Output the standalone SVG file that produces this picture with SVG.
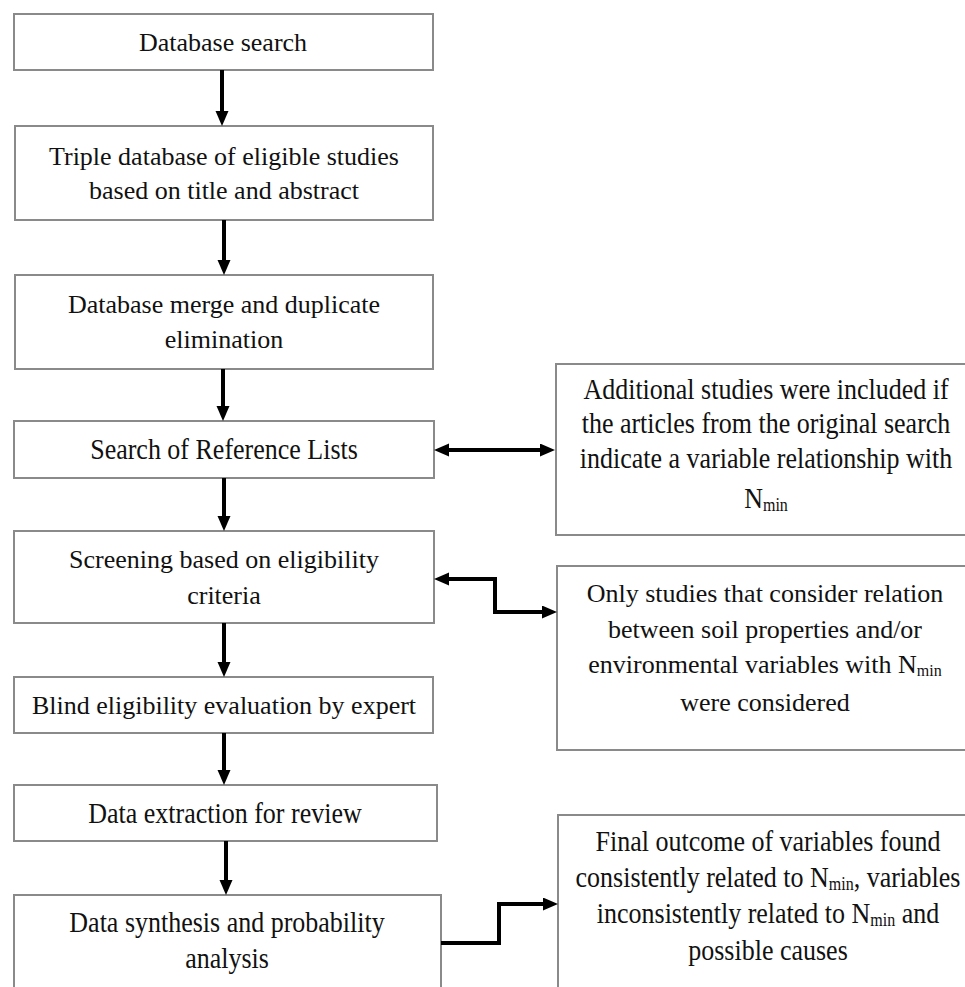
<svg xmlns="http://www.w3.org/2000/svg" width="965" height="987" viewBox="0 0 965 987">
<style>
.box{fill:#fff;stroke:#8a8a8a;stroke-width:2}
.t{font-family:"Liberation Serif","Times New Roman",serif;font-size:26px;fill:#111;text-anchor:middle}
.sub{font-size:16px}
.c{fill:none;stroke:#000;stroke-width:4}
</style>
<defs>
<marker id="ah" markerUnits="userSpaceOnUse" markerWidth="16" markerHeight="14" refX="5" refY="6.5" orient="auto-start-reverse">
<path d="M0,0 L15,6.5 L0,13 z" fill="#000"/>
</marker>
</defs>
<rect width="965" height="987" fill="#fff"/>
<g id="n1"><rect class="box" x="14" y="14" width="419" height="56"/><text class="t" x="223" y="51">Database search</text></g>
<g id="n2"><rect class="box" x="15" y="126" width="418" height="94"/><text class="t" x="224" y="165">Triple database of eligible studies</text><text class="t" x="224" y="199">based on title and abstract</text></g>
<g id="n3"><rect class="box" x="15" y="275" width="418" height="94"/><text class="t" x="224" y="313">Database merge and duplicate</text><text class="t" x="224" y="348">elimination</text></g>
<g id="n4"><rect class="box" x="14" y="421" width="420" height="57"/><text class="t" transform="translate(224,459) scale(1,1.15)">Search of Reference Lists</text></g>
<g id="n5"><rect class="box" x="14" y="531" width="420" height="92"/><text class="t" x="224" y="568">Screening based on eligibility</text><text class="t" x="224" y="604">criteria</text></g>
<g id="n6"><rect class="box" x="14" y="677" width="419" height="56"/><text class="t" x="224" y="714">Blind eligibility evaluation by expert</text></g>
<g id="n7"><rect class="box" x="14" y="785" width="423" height="56"/><text class="t" transform="translate(225,823) scale(1,1.15)">Data extraction for review</text></g>
<g id="n8"><rect class="box" x="14" y="895" width="427" height="100"/><text class="t" transform="translate(227,932) scale(1,1.15)">Data synthesis and probability</text><text class="t" transform="translate(227,968) scale(1,1.15)">analysis</text></g>
<g id="r1"><rect class="box" x="556" y="364" width="412" height="171"/>
<text class="t" transform="translate(766,399) scale(1,1.15)">Additional studies were included if</text>
<text class="t" transform="translate(766,433) scale(1,1.15)">the articles from the original search</text>
<text class="t" transform="translate(766,468) scale(1,1.15)">indicate a variable relationship with</text>
<text class="t" transform="translate(766,508) scale(1,1.15)">N<tspan class="sub" dy="3">min</tspan></text></g>
<g id="r2"><rect class="box" x="557" y="566" width="411" height="184"/>
<text class="t" x="765" y="602">Only studies that consider relation</text>
<text class="t" x="765" y="638">between soil properties and/or</text>
<text class="t" x="765" y="673">environmental variables with N<tspan class="sub" dy="3">min</tspan></text>
<text class="t" x="765" y="711">were considered</text></g>
<g id="r3"><rect class="box" x="558" y="815" width="410" height="180"/>
<text class="t" transform="translate(768,851) scale(1,1.15)">Final outcome of variables found</text>
<text class="t" transform="translate(768,887) scale(1,1.15)">consistently related to N<tspan class="sub" dy="3">min</tspan><tspan dy="-3">, variables</tspan></text>
<text class="t" transform="translate(768,923) scale(1,1.15)">inconsistently related to N<tspan class="sub" dy="3">min</tspan><tspan dy="-3"> and</tspan></text>
<text class="t" transform="translate(768,960) scale(1,1.15)">possible causes</text></g>
<g id="connectors">
<path class="c" d="M222,70 V116" marker-end="url(#ah)"/>
<path class="c" d="M224,220 V265" marker-end="url(#ah)"/>
<path class="c" d="M223,369 V411" marker-end="url(#ah)"/>
<path class="c" d="M224,478 V521" marker-end="url(#ah)"/>
<path class="c" d="M224,623 V667" marker-end="url(#ah)"/>
<path class="c" d="M224,733 V775" marker-end="url(#ah)"/>
<path class="c" d="M226,841 V885" marker-end="url(#ah)"/>
<path class="c" d="M444,450 H545" marker-start="url(#ah)" marker-end="url(#ah)"/>
<path class="c" d="M444,579 H495 V612 H547" marker-start="url(#ah)" marker-end="url(#ah)"/>
<path class="c" d="M441,943 H499 V904 H548" marker-end="url(#ah)"/>
</g>
</svg>
